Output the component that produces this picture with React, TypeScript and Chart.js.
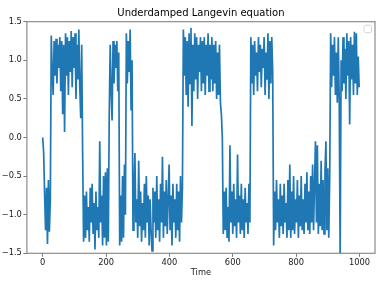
import { useEffect, useRef } from "react";
import { Chart, registerables } from "chart.js";

Chart.register(...registerables);

const TITLE = "Underdamped Langevin equation";
const X_LABEL = "Time";
const TIME_STEP = 3;

const positions = [
  0.0, -0.2, -0.75, -1.2, -0.65, -1.38, -0.55, -1.22, -0.8, 1.32,
  0.85, 0.55, 1.25, 0.8, 1.28, 0.7, 1.2, 0.9, 1.3, 0.6,
  1.25, 0.3, 1.2, 0.07, 1.35, 0.8, 1.3, 0.55, 1.25, 0.85,
  1.38, 0.65, 1.3, 0.9, 1.35, 0.5, 1.2, 0.75, 1.4, 0.65,
  0.25, 1.2, -0.2, -1.35, -0.75, -1.3, -0.7, -1.2, -0.9, -1.35,
  -0.65, -1.1, -0.6, -1.25, -0.85, -1.45, -0.7, -1.2, -0.9, -1.3,
  -0.05, -1.1, -0.75, -1.4, -0.5, -1.3, -0.45, -1.4, -0.4, -1.35,
  0.3, 1.2, 0.6, 0.22, 1.25, 0.7, 1.2, 0.9, 1.25, 0.6,
  1.1, -1.4, -0.75, -1.35, -0.5, -1.3, -0.35, -1.0, 1.35, 0.7,
  1.25, 0.85, 1.4, 0.35, 1.0, -1.2, -0.75, -0.2, -1.1, -0.8,
  -1.3, -0.3, -1.15, -0.7, -1.35, -0.85, -1.2, -0.6, -1.3, -0.5,
  -1.1, -0.75, -1.4, -0.8, -1.2, -1.47, -0.65, -1.1, -0.7, -1.3,
  -0.5, -1.2, -0.8, -1.35, -0.6, -1.1, -0.25, -1.3, -0.7, -1.15,
  -0.55, -1.25, -0.8, -0.35, -1.2, -0.75, -1.4, -0.6, -1.1, -0.8,
  -1.3, -0.6, -1.2, -0.7, -1.35, -0.5, -1.1, -0.65, 1.4, 0.8,
  1.3, 0.55, 1.25, 0.4, 1.35, 0.7, 1.42, 0.15, 1.2, 0.6,
  1.35, 0.75, 1.3, 0.5, 1.2, 0.85, 1.3, 0.6, 1.25, 0.7,
  1.3, 0.55, 1.2, 0.8, 1.35, 0.6, 1.2, 0.75, 1.3, 0.6,
  1.2, 0.7, 1.25, 0.5, 1.1, 0.55, 1.2, 0.45, 0.3, 0.0,
  -1.25, -0.7, -1.2, -0.65, -1.3, -0.9, -1.35, -0.1, -1.1, -0.7,
  -1.25, -0.6, -1.15, -0.8, -1.3, -0.22, -1.1, -0.75, -1.25, -0.6,
  -1.2, -0.8, -1.3, -0.65, -1.1, -0.85, -1.25, -0.6, -1.1, 1.3,
  0.7, 1.2, 0.55, 1.25, 0.8, 1.1, 0.6, 1.3, 0.85, 1.2,
  0.65, 1.15, 0.9, 1.3, 0.55, 1.1, 0.75, 1.35, 0.5, 1.25,
  0.7, 1.3, 0.85, -1.4, -0.7, -1.2, -0.55, -1.1, -0.8, -1.3,
  -0.6, -1.15, -0.75, -1.25, -0.6, -1.1, -0.85, -1.3, -0.55, -1.2,
  -0.35, -1.3, -0.7, -1.2, -0.5, -1.25, -0.8, -1.1, -0.55, -1.3,
  -0.75, -1.15, -0.5, -1.2, -0.8, -1.25, -0.6, -1.1, -0.45, -1.2,
  -0.7, -1.25, -0.5, -1.1, -0.35, -1.2, -0.6, -0.05, -1.1, -0.1,
  -1.25, -0.6, -1.15, -0.3, -1.2, -0.55, -1.25, -0.45, -0.05, -1.2,
  -0.4, -1.3, -0.5, 1.35, 0.65, 1.2, 0.8, 1.3, 0.55, 1.1,
  0.45, 1.3, 0.5, -1.55, 1.0, 0.6, 1.3, 0.7, 1.15, 0.5,
  1.35, 0.8, 1.25, 0.17, 1.3, 0.75, 1.2, 0.55, 1.37, 0.7,
  1.35, 0.55, 1.05, 0.65,
];

const xTicks = [0, 200, 400, 600, 800, 1000];
const xTickLabels = ["0", "200", "400", "600", "800", "1000"];
const yTicks = [-1.5, -1.0, -0.5, 0.0, 0.5, 1.0, 1.5];
const yTickLabels = ["\u22121.5", "\u22121.0", "\u22120.5", "0.0", "0.5", "1.0", "1.5"];

const FONT = "'DejaVu Sans', sans-serif";

const framePlugin = {
  id: "frame",
  afterDatasetsDraw(chart: any) {
    const { ctx, chartArea } = chart;
    const { left, top, right, bottom } = chartArea;
    ctx.save();
    ctx.strokeStyle = "#8c8c8c";
    ctx.lineWidth = 1.2;
    ctx.strokeRect(left, top, right - left, bottom - top);
    // empty legend box
    ctx.strokeStyle = "#d6d6d6";
    ctx.lineWidth = 1;
    ctx.fillStyle = "#ffffff";
    ctx.beginPath();
    ctx.roundRect(right - 11, top + 3.5, 7.5, 7.5, 1.5);
    ctx.fill();
    ctx.stroke();
    ctx.restore();
  },
};

export default function App() {
  const ref = useRef<HTMLCanvasElement>(null);
  useEffect(() => {
    if (!ref.current) return;
    const data = positions.map((v, i) => ({ x: i * TIME_STEP, y: v }));
    const chart = new Chart(ref.current, {
      type: "line",
      data: {
        datasets: [
          {
            data,
            borderColor: "#1f77b4",
            borderWidth: 1.7,
            pointRadius: 0,
            tension: 0,
            fill: false,
          },
        ],
      },
      plugins: [framePlugin],
      options: {
        animation: false,
        responsive: false,
        events: [],
        layout: { padding: { left: 0, right: 9, top: 0, bottom: 0 } },
        plugins: {
          legend: { display: false },
          tooltip: { enabled: false },
          title: {
            display: true,
            text: TITLE,
            fullSize: false,
            color: "#000",
            font: { family: FONT, size: 10, weight: "normal" },
            padding: { top: 7, bottom: 2.7 },
          },
        },
        scales: {
          x: {
            type: "linear",
            min: -49.95,
            max: 1048.95,
            afterBuildTicks(scale: any) {
              scale.ticks = xTicks.map((v) => ({ value: v }));
            },
            afterFit(scale: any) {
              scale.height = 34.7;
            },
            border: { display: false },
            grid: {
              drawOnChartArea: false,
              drawTicks: true,
              tickLength: 3.5,
              color: "#555",
              lineWidth: 0.8,
            },
            ticks: {
              padding: 1.5,
              color: "#222",
              maxRotation: 0,
              autoSkip: false,
              font: { family: FONT, size: 8.3 },
              callback: (v: any) => {
                const i = xTicks.indexOf(Number(v));
                return i >= 0 ? xTickLabels[i] : "";
              },
            },
            title: {
              display: true,
              text: X_LABEL,
              color: "#222",
              font: { family: FONT, size: 8.3 },
              padding: { top: 0, bottom: 9.7 },
            },
          },
          y: {
            type: "linear",
            min: -1.5,
            max: 1.5,
            afterBuildTicks(scale: any) {
              scale.ticks = yTicks.map((v) => ({ value: v }));
            },
            afterFit(scale: any) {
              scale.width = 26.9;
            },
            border: { display: false },
            grid: {
              drawOnChartArea: false,
              drawTicks: true,
              tickLength: 3.5,
              color: "#555",
              lineWidth: 0.8,
            },
            ticks: {
              padding: 1.5,
              color: "#222",
              autoSkip: false,
              font: { family: FONT, size: 8.3 },
              callback: (v: any) => {
                const i = yTicks.findIndex((t) => Math.abs(t - Number(v)) < 1e-9);
                return i >= 0 ? yTickLabels[i] : "";
              },
            },
          },
        },
      },
    });
    return () => chart.destroy();
  }, []);
  return (
    <div style={{ position: "absolute", left: 0, top: 0, width: 384, height: 288 }}>
      <canvas ref={ref} width={384} height={288} style={{ display: "block" }} />
    </div>
  );
}
